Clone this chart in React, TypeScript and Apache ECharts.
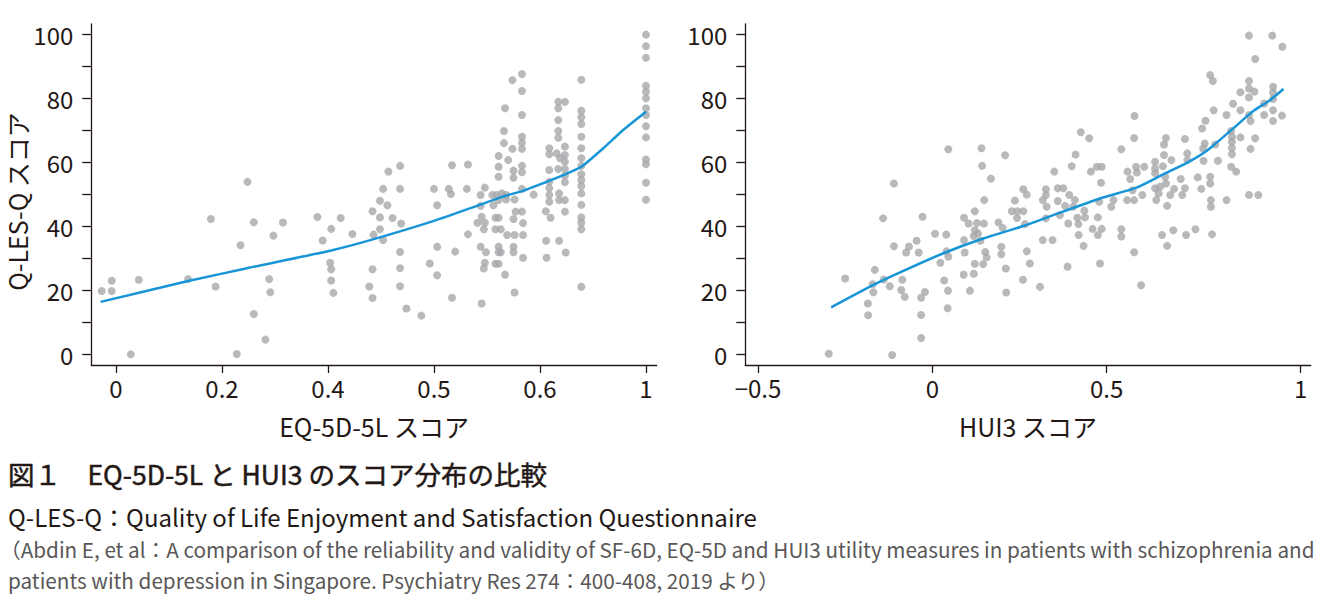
import React, { useEffect, useRef } from 'react';
import * as echarts from 'echarts';

const FONT = '"Noto Sans CJK JP", "Noto Sans", sans-serif';
const INK = '#231815';
const GREY_TEXT = '#595757';
const DOT = '#a5a7aa';
const FIT = '#1795d7';

// printed (non-linear) x axes: tick values and their printed spots
const eqTickValues = [0, 0.2, 0.4, 0.5, 0.6, 1];
const eqTickLabels = ['0', '0.2', '0.4', '0.5', '0.6', '1'];
const eqTickSpots = [0, 1, 2, 3, 4, 5];
const huiTickValues = [-0.5, 0, 0.5, 1];
const huiTickLabels = ['−0.5', '0', '0.5', '1'];
const huiTickSpots = [-0.5, 0, 0.5, 1.0565];
const yTickValues = [0, 10, 20, 30, 40, 50, 60, 70, 80, 90, 100];
const yLabelValues = [0, 20, 40, 60, 80, 100];

const eqScatter: [number, number][] = [
  [-0.027, 19.8], [-0.008, 23.0], [-0.008, 19.8], [0.028, 0], [0.043, 23.3], [0.136, 23.5], [0.179, 42.3], [0.188, 21.2],
  [0.228, 0.1], [0.235, 34.1], [0.248, 53.9], [0.26, 41.3], [0.26, 12.6], [0.282, 4.6], [0.289, 23.5], [0.291, 19.4],
  [0.297, 37.1], [0.315, 41.2], [0.38, 42.9], [0.39, 35.6], [0.402, 28.6], [0.403, 39.2], [0.403, 26.6], [0.403, 23.1],
  [0.405, 19.2], [0.412, 42.6], [0.423, 37.6], [0.439, 21.2], [0.442, 26.6], [0.442, 17.6], [0.442, 44.7], [0.443, 37.4],
  [0.449, 48.0], [0.449, 42.8], [0.449, 39.1],
  [0.452, 51.7], [0.456, 46.6], [0.452, 35.7], [0.457, 57.1], [0.461, 42.6], [0.468, 58.9], [0.468, 51.7], [0.469, 40.9],
  [0.468, 32.0], [0.468, 26.9], [0.468, 21.3], [0.474, 14.3], [0.488, 12.1], [0.496, 28.4], [0.5, 51.7], [0.503, 46.6],
  [0.503, 33.6], [0.503, 24.7], [0.514, 51.7], [0.516, 50.1], [0.517, 59.1], [0.517, 17.7], [0.52, 32.1], [0.531, 51.7],
  [0.532, 59.3], [0.532, 37.5], [0.545, 15.9],
  [0.548, 52.1], [0.544, 49.8], [0.544, 46.4], [0.545, 43.0], [0.541, 41.1], [0.548, 41.1], [0.547, 39.1], [0.544, 33.6],
  [0.549, 31.9], [0.548, 28.6], [0.547, 26.8],
  [0.561, 62.0], [0.561, 58.6], [0.561, 55.5], [0.555, 49.8], [0.559, 49.8], [0.564, 50.3], [0.568, 49.8], [0.561, 48.2],
  [0.568, 48.4], [0.556, 46.6], [0.558, 42.7], [0.561, 42.7], [0.558, 39.1], [0.563, 39.1], [0.561, 33.6], [0.561, 31.9],
  [0.563, 31.9], [0.558, 28.3], [0.561, 28.3], [0.567, 24.9], [0.567, 76.9], [0.566, 69.8], [0.566, 66.0], [0.57, 60.7],
  [0.569, 37.3],
  [0.574, 85.7], [0.583, 87.6], [0.583, 82.3], [0.583, 74.8], [0.574, 64.2], [0.583, 68.0], [0.583, 66.1], [0.583, 64.2],
  [0.583, 58.9], [0.583, 56.9], [0.575, 57.4], [0.575, 55.2], [0.583, 51.7], [0.576, 48.4], [0.577, 44.6], [0.583, 44.6],
  [0.575, 42.3], [0.584, 41.0], [0.576, 37.3], [0.584, 37.3], [0.575, 33.6], [0.575, 31.9], [0.584, 30.2], [0.576, 19.3],
  [0.594, 49.9],
  [0.635, 64.4], [0.635, 62.5], [0.635, 57.6], [0.635, 53.9], [0.635, 51.9], [0.635, 49.8], [0.635, 47.7], [0.622, 44.7],
  [0.64, 42.7], [0.623, 35.5], [0.625, 30.2],
  [0.669, 78.9], [0.694, 78.9], [0.669, 76.9], [0.669, 73.2], [0.669, 69.8], [0.669, 67.7], [0.694, 64.9], [0.663, 62.8],
  [0.694, 62.3], [0.676, 61.3], [0.694, 60.2], [0.669, 57.9], [0.694, 57.9], [0.694, 55.8], [0.694, 53.8], [0.672, 50.3],
  [0.672, 48.2], [0.694, 48.2], [0.694, 44.6], [0.672, 35.5], [0.697, 31.8],
  [0.756, 85.8], [0.756, 76.1], [0.756, 74.1], [0.756, 72.0], [0.756, 68.0], [0.756, 64.4], [0.756, 61.3], [0.756, 58.9],
  [0.756, 56.3], [0.756, 54.5], [0.756, 52.6], [0.756, 50.3], [0.756, 46.7], [0.756, 42.8], [0.756, 41.1], [0.756, 39.1],
  [0.756, 21.1],
  [1, 99.9], [1, 96.3], [1, 92.7], [1, 83.9], [1, 82.1], [1, 80.0], [1, 76.9], [1, 74.8], [1, 71.3], [1, 67.8],
  [1, 60.9], [1, 59.4], [1, 53.6], [1, 48.3],
];

const eqFit: [number, number][] = [
  [-0.029, 16.4], [0.136, 22.9], [0.247, 26.9], [0.402, 32.4], [0.44, 35.7], [0.5, 41.7], [0.543, 46.7], [0.565, 49.3],
  [0.584, 51.1], [0.597, 52.7], [0.688, 56.0], [0.756, 58.6], [0.839, 64.4], [0.914, 70.1], [1.0, 75.8],
];

const huiScatter: [number, number][] = [
  [-0.297, 0.2], [-0.25, 23.7], [-0.185, 15.9], [-0.184, 12.2], [-0.171, 21.9], [-0.169, 19.4], [-0.165, 26.4], [-0.141, 42.5],
  [-0.139, 23.4], [-0.122, 21.3], [-0.115, -0.2], [-0.11, 53.4], [-0.11, 33.8], [-0.089, 20.1], [-0.086, 23.3], [-0.079, 18.0],
  [-0.075, 31.8], [-0.067, 33.7], [-0.045, 35.5], [-0.039, 31.8], [-0.032, 5.1], [-0.032, 12.3], [-0.032, 17.7], [-0.021, 19.5],
  [-0.028, 43.0], [0.008, 37.7], [0.023, 28.6], [0.034, 23.1], [0.04, 37.4], [0.041, 32.2], [0.044, 14.4], [0.045, 19.9],
  [0.046, 64.1], [0.046, 30.5], [0.09, 24.9], [0.091, 35.7], [0.091, 42.7], [0.093, 31.8], [0.104, 40.9], [0.108, 19.9],
  [0.119, 25.2], [0.122, 28.3], [0.122, 44.7], [0.122, 38.8], [0.128, 41.0], [0.131, 37.8], [0.119, 37.0], [0.138, 35.5],
  [0.141, 64.4], [0.143, 58.9], [0.146, 28.2], [0.148, 40.9], [0.149, 48.2], [0.152, 32.0], [0.156, 30.3], [0.168, 54.9],
  [0.19, 41.2], [0.198, 33.6], [0.198, 31.3], [0.202, 39.5], [0.209, 62.2], [0.211, 26.8], [0.212, 19.3], [0.228, 44.7],
  [0.237, 48.1], [0.243, 42.6], [0.244, 44.7], [0.261, 44.7], [0.261, 51.6], [0.26, 23.3], [0.266, 40.7], [0.271, 49.9],
  [0.271, 32.2], [0.28, 28.4],
  [0.309, 21.1], [0.317, 48.2], [0.317, 35.7], [0.326, 51.6], [0.326, 49.8], [0.328, 46.1], [0.326, 42.5], [0.345, 35.7],
  [0.35, 57.1], [0.36, 51.9], [0.36, 47.9], [0.366, 43.5], [0.376, 51.9], [0.381, 46.4], [0.388, 27.4], [0.39, 40.9],
  [0.393, 49.8], [0.4, 58.8], [0.404, 46.1], [0.409, 48.2], [0.411, 62.4], [0.416, 42.7], [0.419, 40.7], [0.42, 37.3],
  [0.426, 69.4], [0.434, 33.9], [0.436, 44.9], [0.438, 42.8], [0.45, 67.5], [0.455, 57.1], [0.46, 39.2], [0.472, 58.6],
  [0.475, 37.3], [0.475, 42.8], [0.479, 47.7], [0.484, 53.6], [0.481, 28.4], [0.486, 58.6], [0.486, 39.2],
  [0.512, 46.1], [0.518, 48.2], [0.538, 64.1], [0.538, 39.1], [0.538, 36.8], [0.553, 48.2], [0.554, 57.1], [0.561, 54.8],
  [0.567, 51.3], [0.571, 48.2], [0.571, 31.9], [0.572, 74.5], [0.571, 67.6], [0.576, 58.6], [0.578, 56.8], [0.589, 21.6],
  [0.592, 49.8], [0.597, 58.6], [0.625, 60.2], [0.625, 58.1], [0.625, 56.6], [0.625, 51.9], [0.628, 48.2], [0.634, 50.3],
  [0.638, 52.4], [0.643, 37.3], [0.645, 58.8], [0.648, 65.6], [0.653, 67.6], [0.648, 62.3], [0.651, 55.5], [0.653, 53.4],
  [0.656, 46.4], [0.656, 33.9], [0.667, 60.7], [0.664, 49.8], [0.672, 38.8], [0.674, 51.7], [0.691, 54.8], [0.695, 49.8],
  [0.702, 67.3], [0.702, 51.9], [0.705, 37.3], [0.708, 62.8], [0.708, 60.7], [0.729, 39.1], [0.735, 55.3], [0.744, 51.7],
  [0.746, 70.6], [0.749, 64.3], [0.75, 60.5], [0.753, 65.9], [0.755, 73.0], [0.767, 87.3], [0.774, 85.4], [0.767, 55.5],
  [0.767, 53.4], [0.769, 48.2], [0.769, 46.1], [0.772, 37.5], [0.776, 76.3], [0.78, 65.6], [0.787, 60.5], [0.809, 74.8],
  [0.809, 48.2], [0.821, 69.8], [0.823, 68.0], [0.823, 66.4], [0.823, 64.4], [0.823, 62.5], [0.821, 58.6], [0.834, 57.1],
  [0.826, 78.3], [0.845, 81.9], [0.845, 76.3], [0.845, 67.8], [0.867, 99.6], [0.867, 85.4], [0.867, 83.1], [0.867, 80.3],
  [0.867, 74.8], [0.871, 72.9], [0.871, 64.2], [0.867, 49.8], [0.881, 82.1], [0.883, 92.3], [0.883, 67.5], [0.891, 49.8],
  [0.906, 78.4], [0.906, 74.8], [0.927, 99.6], [0.929, 83.6], [0.929, 81.8], [0.929, 79.8], [0.929, 76.3], [0.929, 72.9],
  [0.953, 96.1], [0.952, 74.6],
];

const huiFit: [number, number][] = [
  [-0.29, 14.7], [-0.169, 21.7], [-0.083, 26.1], [0.032, 31.6], [0.146, 36.2], [0.261, 40.1], [0.347, 43.5], [0.481, 48.7],
  [0.577, 52.1], [0.647, 56.3], [0.708, 59.9], [0.76, 63.8], [0.829, 70.9], [0.879, 76.1], [0.922, 79.5], [0.956, 82.9],
];

const titleText = '図１　EQ-5D-5L と HUI3 のスコア分布の比較';
const noteText = 'Q-LES-Q：Quality of Life Enjoyment and Satisfaction Questionnaire';
const sourceLine1 = '（Abdin E, et al：A comparison of the reliability and validity of SF-6D, EQ-5D and HUI3 utility measures in patients with schizophrenia and';
const sourceLine2 = 'patients with depression in Singapore. Psychiatry Res 274：400-408, 2019 より）';

// piecewise-linear mapping of a value to its printed spot on the axis
function toSpot(v: number, values: number[], spots: number[]): number {
  let i = 0;
  while (i < values.length - 2 && v > values[i + 1]) i++;
  const t = (v - values[i]) / (values[i + 1] - values[i]);
  return spots[i] + t * (spots[i + 1] - spots[i]);
}

function labelFor(val: number, spots: number[], labels: string[]): string {
  const k = spots.findIndex((s) => Math.abs(s - val) < 1e-6);
  return k >= 0 ? labels[k] : '';
}

export default function App() {
  const ref = useRef<HTMLDivElement>(null);

  useEffect(() => {
    if (!ref.current) return;
    const chart = echarts.init(ref.current, undefined, { renderer: 'svg' });

    const lineStyle = { color: INK, width: 1.3 };
    const labelStyle = { color: INK, fontFamily: FONT, fontSize: 24 };
    const nameStyle = { color: INK, fontFamily: FONT, fontSize: 25 };

    const xAxisFor = (grid: number, min: number, max: number, spots: number[], labels: string[], name: string) => ({
      type: 'value',
      gridIndex: grid,
      min,
      max,
      axisLine: { show: true, onZero: false, lineStyle },
      axisTick: { show: true, customValues: spots, length: 8, lineStyle },
      axisLabel: {
        ...labelStyle,
        customValues: spots,
        margin: 10,
        formatter: (v: number) => labelFor(v, spots, labels),
      },
      splitLine: { show: false },
      name,
      nameLocation: 'middle',
      nameGap: 48,
      nameTextStyle: nameStyle,
    });

    const yAxisFor = (grid: number, name: string) => ({
      type: 'value',
      gridIndex: grid,
      min: -3.33,
      max: 103.23,
      axisLine: { show: true, onZero: false, lineStyle },
      axisTick: { show: true, customValues: yTickValues, length: 9, lineStyle },
      axisLabel: { ...labelStyle, customValues: yLabelValues, margin: 18 },
      splitLine: { show: false },
      name,
      nameLocation: 'middle',
      nameRotate: 90,
      nameGap: 62,
      nameTextStyle: { ...nameStyle, padding: [0, 14, 0, 0] },
    });

    chart.setOption({
      animation: false,
      backgroundColor: '#ffffff',
      grid: [
        { left: 91.3, top: 24, width: 565.4, height: 341 },
        { left: 745.3, top: 24, width: 565.4, height: 341 },
      ],
      xAxis: [
        xAxisFor(0, -0.233, 5.101, eqTickSpots, eqTickLabels, 'EQ-5D-5L スコア'),
        xAxisFor(1, -0.5364, 1.0855, huiTickSpots, huiTickLabels, 'HUI3 スコア'),
      ],
      yAxis: [yAxisFor(0, 'Q-LES-Q スコア'), yAxisFor(1, '')],
      series: [
        {
          type: 'scatter',
          xAxisIndex: 0,
          yAxisIndex: 0,
          symbolSize: 8,
          itemStyle: { color: DOT },
          data: eqScatter.map(([x, y]) => [toSpot(x, eqTickValues, eqTickSpots), y]),
        },
        {
          type: 'line',
          xAxisIndex: 0,
          yAxisIndex: 0,
          showSymbol: false,
          smooth: 0.2,
          lineStyle: { color: FIT, width: 2.5 },
          data: eqFit.map(([x, y]) => [toSpot(x, eqTickValues, eqTickSpots), y]),
        },
        {
          type: 'scatter',
          xAxisIndex: 1,
          yAxisIndex: 1,
          symbolSize: 8,
          itemStyle: { color: DOT },
          data: huiScatter.map(([x, y]) => [toSpot(x, huiTickValues, huiTickSpots), y]),
        },
        {
          type: 'line',
          xAxisIndex: 1,
          yAxisIndex: 1,
          showSymbol: false,
          smooth: 0.2,
          lineStyle: { color: FIT, width: 2.5 },
          data: huiFit.map(([x, y]) => [toSpot(x, huiTickValues, huiTickSpots), y]),
        },
      ],
      graphic: [
        {
          type: 'text',
          x: 8,
          y: 473,
          style: {
            text: titleText,
            fill: INK,
            stroke: INK,
            lineWidth: 0.5,
            font: `26.5px ${FONT}`,
            verticalAlign: 'middle',
          },
        },
        {
          type: 'text',
          x: 8,
          y: 516,
          style: { text: noteText, fill: INK, font: `24px ${FONT}`, verticalAlign: 'middle' },
        },
        {
          type: 'text',
          x: 0,
          y: 549,
          style: { text: sourceLine1, fill: GREY_TEXT, font: `20.7px ${FONT}`, verticalAlign: 'middle' },
        },
        {
          type: 'text',
          x: 8,
          y: 580,
          style: { text: sourceLine2, fill: GREY_TEXT, font: `20.7px ${FONT}`, verticalAlign: 'middle' },
        },
      ],
    });

    return () => chart.dispose();
  }, []);

  return (
    <div
      ref={ref}
      style={{ position: 'fixed', left: 0, top: 0, width: 1341, height: 596, background: '#fff' }}
    />
  );
}
